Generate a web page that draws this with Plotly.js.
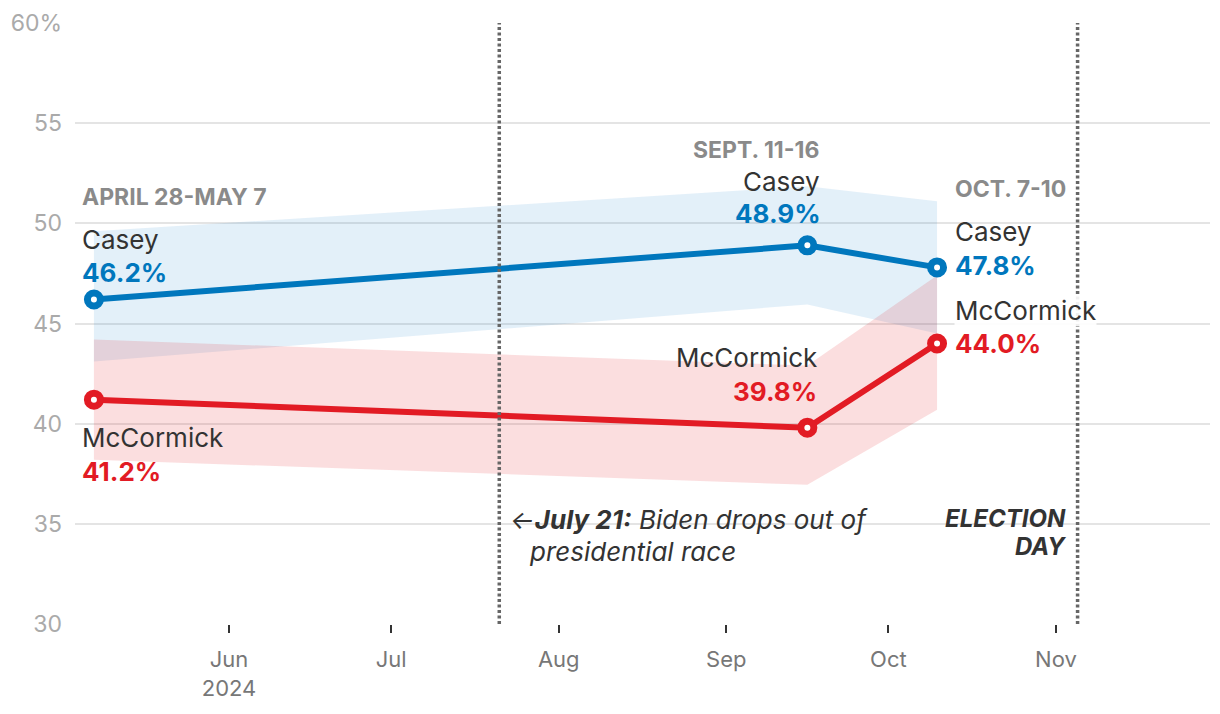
<!DOCTYPE html>
<html>
<head>
<meta charset="utf-8">
<script src="https://cdn.plot.ly/plotly-3.0.1.min.js"></script>
<style>
  html, body { margin: 0; padding: 0; background: #fff; }
  #chart { width: 1220px; height: 714px; }
</style>
</head>
<body>
<div id="chart"></div>
<script>
// ---- Data ----
const pollDates = ['2024-05-07', '2024-09-16', '2024-10-10'];
const pollLabels = ['APRIL 28-MAY 7', 'SEPT. 11-16', 'OCT. 7-10'];
const casey = [46.2, 48.9, 47.8];
const caseyHigh = [49.6, 51.85, 51.1];
const caseyLow = [43.1, 45.95, 44.5];
const mccormick = [41.2, 39.8, 44.0];
const mccormickHigh = [44.2, 42.9, 47.4];
const mccormickLow = [38.2, 36.95, 40.7];
const eventDates = ['2024-07-21', '2024-11-05'];
const xTickVals = ['2024-06-01', '2024-07-01', '2024-08-01', '2024-09-01', '2024-10-01', '2024-11-01'];
const xTickText = ['Jun<br>2024', 'Jul', 'Aug', 'Sep', 'Oct', 'Nov'];
const yTickVals = [30, 35, 40, 45, 50, 55, 60];
const yTickText = ['30', '35', '40', '45', '50', '55', '60%'];

const BLUE = '#0077bd';
const RED = '#e21b24';
const FONT = 'Inter, "Liberation Sans", sans-serif';
const pct = v => v.toFixed(1) + '%';

const traces = [
  { x: pollDates, y: caseyLow, mode: 'lines', line: { width: 0 }, hoverinfo: 'skip', showlegend: false },
  { x: pollDates, y: caseyHigh, mode: 'lines', line: { width: 0 }, fill: 'tonexty', fillcolor: 'rgba(0,120,200,0.11)', hoverinfo: 'skip', showlegend: false },
  { x: pollDates, y: mccormickLow, mode: 'lines', line: { width: 0 }, hoverinfo: 'skip', showlegend: false },
  { x: pollDates, y: mccormickHigh, mode: 'lines', line: { width: 0 }, fill: 'tonexty', fillcolor: 'rgba(226,27,35,0.145)', hoverinfo: 'skip', showlegend: false },
  { x: pollDates, y: casey, mode: 'lines+markers', name: 'Casey', showlegend: false,
    line: { color: BLUE, width: 6 },
    marker: { size: 13, color: '#fff', line: { color: BLUE, width: 7 } } },
  { x: pollDates, y: mccormick, mode: 'lines+markers', name: 'McCormick', showlegend: false,
    line: { color: RED, width: 6 },
    marker: { size: 13, color: '#fff', line: { color: RED, width: 7 } } }
];

function ann(text, x, y, xanchor, xshift, size, color, style) {
  return {
    text: text, x: x, y: y, xref: 'x', yref: 'y', xanchor: xanchor, yanchor: 'middle',
    xshift: xshift, showarrow: false, borderpad: 0,
    font: { family: FONT, size: size, color: color, style: style || 'normal' }
  };
}

const GREY = '#8a8a8a';
const DARK = '#333';
const annotations = [
  // April 28 - May 7
  ann('<b>' + pollLabels[0] + '</b>', pollDates[0], 51.32, 'left', -13, 23, GREY),
  ann('Casey', pollDates[0], 49.17, 'left', -13, 26, DARK),
  ann('<b>' + pct(casey[0]) + '</b>', pollDates[0], 47.57, 'left', -13, 26, BLUE),
  ann('McCormick', pollDates[0], 39.29, 'left', -13, 26, DARK),
  ann('<b>' + pct(mccormick[0]) + '</b>', pollDates[0], 37.59, 'left', -13, 26, RED),
  // Sept 11-16
  ann('<b>' + pollLabels[1] + '</b>', pollDates[1], 53.66, 'right', 13, 23, GREY),
  ann('Casey', pollDates[1], 52.07, 'right', 14, 26, DARK),
  ann('<b>' + pct(casey[1]) + '</b>', pollDates[1], 50.47, 'right', 15, 26, BLUE),
  ann('McCormick', pollDates[1], 43.28, 'right', 11, 26, DARK),
  ann('<b>' + pct(mccormick[1]) + '</b>', pollDates[1], 41.63, 'right', 11, 26, RED),
  // Oct 7-10
  ann('<b>' + pollLabels[2] + '</b>', pollDates[2], 51.72, 'left', 17, 23, GREY),
  ann('Casey', pollDates[2], 49.57, 'left', 17, 26, DARK),
  ann('<b>' + pct(casey[2]) + '</b>', pollDates[2], 47.92, 'left', 17, 26, BLUE),
  Object.assign(ann('McCormick', pollDates[2], 45.63, 'left', 17, 26, DARK), { bgcolor: 'rgba(255,255,255,0.9)' }),
  ann('<b>' + pct(mccormick[2]) + '</b>', pollDates[2], 43.98, 'left', 17, 26, RED),
  // Events
  ann('←<b>July 21:</b> Biden drops out of', eventDates[0], 35.24, 'left', 10, 26, DARK, 'italic'),
  ann('presidential race', eventDates[0], 33.64, 'left', 29, 26, DARK, 'italic'),
  ann('<b>ELECTION</b>', eventDates[1], 35.29, 'right', -11, 24, DARK, 'italic'),
  ann('<b>DAY</b>', eventDates[1], 33.89, 'right', -11, 24, DARK, 'italic')
];

const shapes = eventDates.map(d => ({
  type: 'line', xref: 'x', yref: 'paper', x0: d, x1: d, y0: 0, y1: 1,
  line: { color: '#666', width: 3.5, dash: '3px,2.5px' }, layer: 'above'
}));

const layout = {
  width: 1220, height: 714,
  margin: { l: 75, r: 10, t: 23, b: 90 },
  paper_bgcolor: '#fff', plot_bgcolor: '#fff',
  showlegend: false,
  font: { family: FONT },
  xaxis: {
    type: 'date',
    range: ['2024-05-03 12:00', '2024-11-29 12:00'],
    tickvals: xTickVals, ticktext: xTickText,
    ticks: 'outside', ticklen: 8, tickwidth: 2, tickcolor: '#333',
    ticklabelstandoff: 8,
    showgrid: false, zeroline: false, showline: false,
    tickfont: { family: FONT, size: 22, color: '#777' }
  },
  yaxis: {
    range: [30, 60],
    tickvals: yTickVals, ticktext: yTickText,
    showgrid: true, gridcolor: '#e4e4e4', gridwidth: 2,
    zeroline: false, showline: false, ticks: '',
    ticklabelstandoff: 12,
    tickfont: { family: FONT, size: 23, color: '#aaa' }
  },
  shapes: shapes,
  annotations: annotations
};

Plotly.newPlot('chart', traces, layout, { displayModeBar: false, staticPlot: true });
</script>
</body>
</html>
